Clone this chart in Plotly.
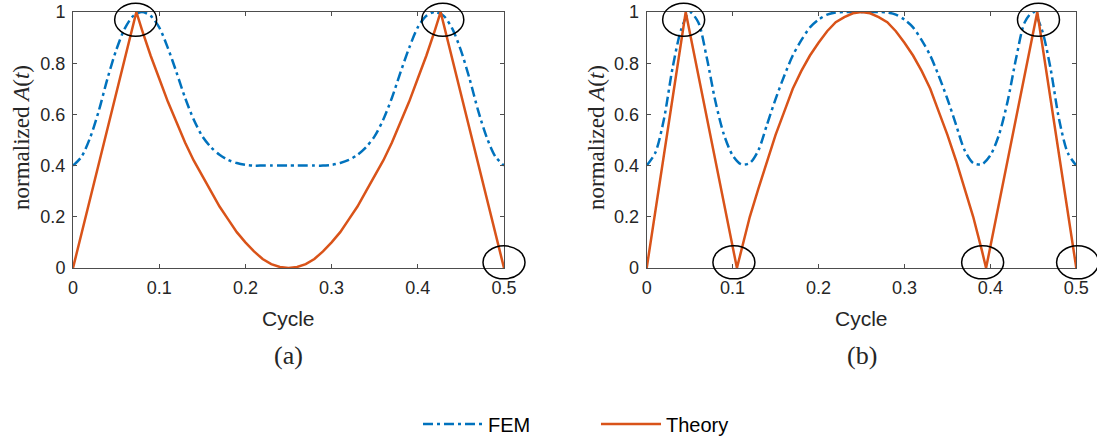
import plotly.graph_objects as go

# ---------------- data ----------------
t_grid = [0.00, 0.01, 0.02, 0.03, 0.04, 0.05, 0.06, 0.07, 0.08, 0.09,
          0.10, 0.11, 0.12, 0.13, 0.14, 0.15, 0.16, 0.17, 0.18, 0.19,
          0.20, 0.21, 0.22, 0.23, 0.24, 0.25, 0.26, 0.27, 0.28, 0.29,
          0.30, 0.31, 0.32, 0.33, 0.34, 0.35, 0.36, 0.37, 0.38, 0.39,
          0.40, 0.41, 0.42, 0.43, 0.44, 0.45, 0.46, 0.47, 0.48, 0.49, 0.50]

fem_a = [0.400, 0.435, 0.510, 0.615, 0.740, 0.850, 0.935, 0.985, 1.000, 0.985,
         0.940, 0.860, 0.765, 0.665, 0.580, 0.515, 0.472, 0.442, 0.422, 0.410,
         0.403, 0.400, 0.400, 0.400, 0.400, 0.400, 0.400, 0.400, 0.400, 0.400,
         0.403, 0.410, 0.422, 0.442, 0.472, 0.515, 0.580, 0.665, 0.765, 0.860,
         0.940, 0.985, 1.000, 0.985, 0.935, 0.850, 0.740, 0.615, 0.510, 0.435, 0.400]

theory_a_t = [0.0, 0.0735, 0.08, 0.09, 0.10, 0.11, 0.12, 0.13, 0.14, 0.15, 0.16,
              0.17, 0.18, 0.19, 0.20, 0.21, 0.22, 0.23, 0.24, 0.25, 0.26, 0.27,
              0.28, 0.29, 0.30, 0.31, 0.32, 0.33, 0.34, 0.35, 0.36, 0.37, 0.38,
              0.39, 0.40, 0.41, 0.42, 0.4265, 0.5]
theory_a = [0.0, 1.0, 0.93, 0.83, 0.74, 0.65, 0.57, 0.49, 0.42, 0.36, 0.30,
            0.24, 0.19, 0.14, 0.10, 0.065, 0.035, 0.015, 0.004, 0.0, 0.004, 0.015,
            0.035, 0.065, 0.10, 0.14, 0.19, 0.24, 0.30, 0.36, 0.42, 0.49, 0.57,
            0.65, 0.74, 0.83, 0.93, 1.0, 0.0]

fem_b = [0.400, 0.450, 0.580, 0.780, 0.930, 1.000, 0.960, 0.820, 0.650, 0.520,
         0.440, 0.405, 0.410, 0.460, 0.560, 0.660, 0.750, 0.830, 0.890, 0.940,
         0.970, 0.990, 0.998, 1.000, 1.000, 1.000, 1.000, 1.000, 0.998, 0.990,
         0.970, 0.940, 0.890, 0.830, 0.750, 0.660, 0.560, 0.460, 0.410, 0.405,
         0.440, 0.520, 0.650, 0.820, 0.960, 1.000, 0.930, 0.780, 0.580, 0.450, 0.400]

theory_b_t = [0.0, 0.0454, 0.105, 0.11, 0.12, 0.13, 0.14, 0.15, 0.16, 0.17, 0.18,
              0.19, 0.20, 0.21, 0.22, 0.23, 0.24, 0.25, 0.26, 0.27, 0.28, 0.29,
              0.30, 0.31, 0.32, 0.33, 0.34, 0.35, 0.36, 0.37, 0.38, 0.39, 0.395,
              0.4546, 0.5]
theory_b = [0.0, 1.0, 0.0, 0.07, 0.20, 0.31, 0.42, 0.52, 0.61, 0.70, 0.77,
            0.83, 0.88, 0.925, 0.96, 0.98, 0.995, 1.0, 0.995, 0.98, 0.96, 0.925,
            0.88, 0.83, 0.77, 0.70, 0.61, 0.52, 0.42, 0.31, 0.20, 0.07, 0.0,
            1.0, 0.0]

# highlighted points (ellipse markers)
circles_a = [(0.0727, 0.97), (0.429, 0.97), (0.5, 0.022)]
circles_b = [(0.043, 0.97), (0.1015, 0.022), (0.391, 0.022), (0.456, 0.97), (0.5015, 0.022)]

x_ticks = [0, 0.1, 0.2, 0.3, 0.4, 0.5]
x_ticktext = ["0", "0.1", "0.2", "0.3", "0.4", "0.5"]
y_ticks = [0, 0.2, 0.4, 0.6, 0.8, 1.0]
y_ticktext = ["0", "0.2", "0.4", "0.6", "0.8", "1"]
x_range = [0, 0.5]
y_range = [0, 1]

# ---------------- style ----------------
W, H = 1097, 441
BLUE = "#0072BD"
ORANGE = "#D95319"
AXC = "#4d4d4d"
TXT = "#262626"
SANS = "Liberation Sans, Arial, Helvetica, sans-serif"
SERIF = "Liberation Serif, Times New Roman, serif"
DASHDOT = "10px,4px,3px,4px"

fig = go.Figure()

fig.add_trace(go.Scatter(x=t_grid, y=fem_a, mode="lines", name="FEM",
                         line=dict(color=BLUE, width=2.5, dash=DASHDOT, shape="spline", smoothing=0.8),
                         xaxis="x", yaxis="y", legendgroup="fem"))
fig.add_trace(go.Scatter(x=theory_a_t, y=theory_a, mode="lines", name="Theory",
                         line=dict(color=ORANGE, width=2.5),
                         xaxis="x", yaxis="y", legendgroup="th"))
fig.add_trace(go.Scatter(x=t_grid, y=fem_b, mode="lines", name="FEM", showlegend=False,
                         line=dict(color=BLUE, width=2.5, dash=DASHDOT, shape="spline", smoothing=0.8),
                         xaxis="x2", yaxis="y2", legendgroup="fem"))
fig.add_trace(go.Scatter(x=theory_b_t, y=theory_b, mode="lines", name="Theory", showlegend=False,
                         line=dict(color=ORANGE, width=2.5),
                         xaxis="x2", yaxis="y2", legendgroup="th"))

ax_common = dict(showline=True, linecolor=AXC, linewidth=1, mirror="ticks",
                 ticks="inside", ticklen=4, tickcolor=AXC, tickwidth=1,
                 showgrid=False, zeroline=False, automargin=False,
                 tickfont=dict(family=SANS, size=18, color=TXT))

dom_a = [73 / W, 504 / W]
dom_b = [646.7 / W, 1076.3 / W]
dom_y = [1 - 268 / H, 1 - 12 / H]

fig.update_layout(
    xaxis=dict(domain=dom_a, range=x_range, tickvals=x_ticks, ticktext=x_ticktext, anchor="y",
               ticklabelstandoff=3, **ax_common),
    yaxis=dict(domain=dom_y, range=y_range, tickvals=y_ticks, ticktext=y_ticktext, anchor="x",
               ticklabelstandoff=3, **ax_common),
    xaxis2=dict(domain=dom_b, range=x_range, tickvals=x_ticks, ticktext=x_ticktext, anchor="y2",
                ticklabelstandoff=3, **ax_common),
    yaxis2=dict(domain=dom_y, range=y_range, tickvals=y_ticks, ticktext=y_ticktext, anchor="x2",
                ticklabelstandoff=3, **ax_common),
)

# ellipse markers
shapes = []
for axn, pts in (("", circles_a), ("2", circles_b)):
    for (cx, cy) in pts:
        shapes.append(dict(type="circle", xref="x%s domain" % axn, yref="y%s domain" % axn,
                           xsizemode="pixel", ysizemode="pixel",
                           xanchor=(cx - x_range[0]) / (x_range[1] - x_range[0]),
                           yanchor=(cy - y_range[0]) / (y_range[1] - y_range[0]),
                           x0=-21, x1=21, y0=-16.5, y1=16.5,
                           line=dict(color="black", width=1.5), layer="above"))

annotations = []
for dom, cap, ylx in ((dom_a, "(a)", 21), (dom_b, "(b)", 596)):
    xc = (dom[0] + dom[1]) / 2
    annotations.append(dict(text="Cycle", xref="paper", yref="paper", x=xc, y=1 - 318 / H,
                            showarrow=False, xanchor="center", yanchor="middle",
                            font=dict(family=SANS, size=21, color=TXT)))
    annotations.append(dict(text=cap, xref="paper", yref="paper", x=xc, y=1 - 355 / H,
                            showarrow=False, xanchor="center", yanchor="middle",
                            font=dict(family=SERIF, size=26, color=TXT)))
    annotations.append(dict(text="normalized <i>A</i>(<i>t</i>)", xref="paper", yref="paper",
                            x=ylx / W, y=1 - 138 / H, textangle=-90,
                            showarrow=False, xanchor="center", yanchor="middle",
                            font=dict(family=SERIF, size=23, color=TXT)))

fig.update_layout(
    width=W, height=H,
    margin=dict(l=0, r=0, t=0, b=0, pad=0, autoexpand=False),
    paper_bgcolor="white", plot_bgcolor="white",
    shapes=shapes, annotations=annotations,
    showlegend=True,
    legend=dict(orientation="h", x=418 / W, xanchor="left", y=1 - 424 / H, yanchor="middle",
                font=dict(family=SANS, size=20, color="black"),
                itemwidth=60, entrywidth=103, entrywidthmode="pixels",
                bgcolor="rgba(0,0,0,0)", itemclick=False, itemdoubleclick=False),
)

fig.write_html("out.html")
